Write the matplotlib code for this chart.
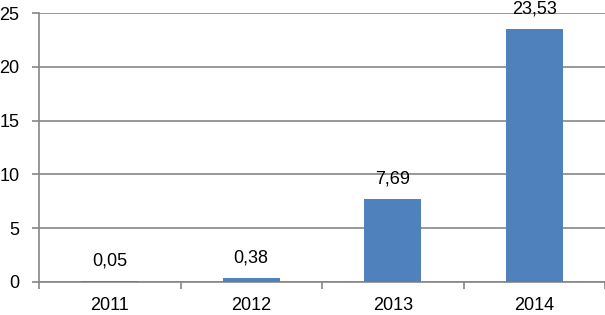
import matplotlib
matplotlib.use("Agg")
import matplotlib.pyplot as plt
import numpy as np

categories = ["2011", "2012", "2013", "2014"]
values = [0.05, 0.38, 7.69, 23.53]
labels = ["0,05", "0,38", "7,69", "23,53"]
yticks = [0, 5, 10, 15, 20, 25]

plt.rcParams['font.family'] = ['Liberation Sans', 'DejaVu Sans']

fig = plt.figure(figsize=(6.05, 3.15), dpi=100)
ax = fig.add_axes([39/605, 33/315, (605-39)/605, (302-33)/315])

x = np.arange(len(categories))
ax.bar(x, values, width=0.4, color="#4F81BD", zorder=3)

for xi, v, lab in zip(x, values, labels):
    ax.annotate(lab, (xi, v), xytext=(0, 14.5), textcoords="offset points",
                ha="center", va="center", fontsize=13, color="black", zorder=4)

ax.set_xlim(-0.5, 3.5)
ax.set_ylim(0, 25)
ax.set_yticks(yticks)
ax.set_yticklabels([str(t) for t in yticks], fontsize=13)
ax.yaxis.grid(True, color="#868686", linewidth=1.2, zorder=0)
ax.set_axisbelow(True)

ax.set_xticks(x)
ax.set_xticklabels(categories, fontsize=13)
ax.set_xticks(np.arange(-0.5, 4.0, 1.0), minor=True)
ax.tick_params(axis="x", which="major", length=0, pad=11)
ax.tick_params(axis="x", which="minor", length=5, color="#868686", width=1.2)
ax.tick_params(axis="y", length=5, color="#868686", width=1.2, pad=9)

for s in ["top", "right"]:
    ax.spines[s].set_visible(False)
for s in ["left", "bottom"]:
    ax.spines[s].set_color("#868686")
    ax.spines[s].set_linewidth(1.2)

fig.savefig("out.png", dpi=100)
